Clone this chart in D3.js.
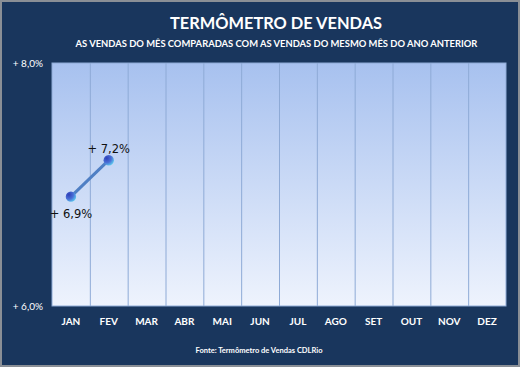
<!DOCTYPE html>
<html><head><meta charset="utf-8">
<script src="https://cdn.jsdelivr.net/npm/d3@7"></script>
<style>body{margin:0;background:#fff}svg{display:block}</style>
</head><body>
<script>
const months = ["JAN","FEV","MAR","ABR","MAI","JUN","JUL","AGO","SET","OUT","NOV","DEZ"];
const values = [6.9, 7.2];
const valueLabels = ["+ 6,9%", "+ 7,2%"];
const yTicks = [6.0, 8.0];
const yTickLabels = ["+ 6,0%", "+ 8,0%"];
const title = "TERMÔMETRO DE VENDAS";
const subtitle = "AS VENDAS DO MÊS COMPARADAS COM AS VENDAS DO MESMO MÊS DO ANO ANTERIOR";
const source = "Fonte: Termômetro de Vendas CDLRio";

const W = 520, H = 367;
const svg = d3.select("body").append("svg").attr("width", W).attr("height", H);
const defs = svg.append("defs");
const bg = defs.append("linearGradient").attr("id","plotbg").attr("x1",0).attr("y1",0).attr("x2",0).attr("y2",1);
bg.append("stop").attr("offset","0%").attr("stop-color","#a7c1ef");
bg.append("stop").attr("offset","100%").attr("stop-color","#eef3fd");
const mg = defs.append("radialGradient").attr("id","mark").attr("cx","30%").attr("cy","30%").attr("r","80%");
mg.append("stop").attr("offset","0%").attr("stop-color","#2f3fb8");
mg.append("stop").attr("offset","55%").attr("stop-color","#4a6fd6");
mg.append("stop").attr("offset","100%").attr("stop-color","#5fd0f0");

svg.append("rect").attr("x",0).attr("y",0).attr("width",W).attr("height",H).attr("fill","#8a8f96");
svg.append("rect").attr("x",2).attr("y",2).attr("width",W-4).attr("height",H-4).attr("fill","#19365d");

const font = "Lato, 'Open Sans', sans-serif";
svg.append("text").attr("x",276).attr("y",29).attr("text-anchor","middle").attr("fill","#fff")
  .attr("font-family",font).attr("font-weight","bold").attr("font-size",16.4).text(title);
svg.append("text").attr("x",276.5).attr("y",47).attr("text-anchor","middle").attr("fill","#fff")
  .attr("font-family",font).attr("font-weight","bold").attr("font-size",9.4).text(subtitle);

const L = 52, R = 506, T = 63, B = 306;
const x = d3.scaleBand().domain(months).range([L, R]);
const y = d3.scaleLinear().domain([6, 8]).range([B, T]);

svg.append("rect").attr("x",L).attr("y",T).attr("width",R-L).attr("height",B-T).attr("fill","url(#plotbg)");
svg.append("g").selectAll("line").data(months.slice(1)).join("line")
  .attr("x1",d=>x(d)+0.5).attr("x2",d=>x(d)+0.5).attr("y1",T).attr("y2",B)
  .attr("stroke","#8eaad6").attr("stroke-width",1);
svg.append("rect").attr("x",L).attr("y",T).attr("width",R-L).attr("height",B-T)
  .attr("fill","none").attr("stroke","#8eaad6").attr("stroke-width",1);

// y labels
svg.append("g").selectAll("text").data(yTicks).join("text")
  .attr("x",43).attr("y",d=>y(d)+4).attr("text-anchor","end").attr("fill","#fff")
  .attr("font-family",font).attr("font-size",10).text((d,i)=>yTickLabels[i]);

// x labels
svg.append("g").selectAll("text").data(months).join("text")
  .attr("x",d=>x(d)+x.bandwidth()/2).attr("y",325).attr("text-anchor","middle").attr("fill","#fff")
  .attr("font-family",font).attr("font-weight","bold").attr("font-size",10).text(d=>d);

// line
const pts = values.map((v,i)=>({m:months[i], v, lab:valueLabels[i]}));
const line = d3.line().x(d=>x(d.m)+x.bandwidth()/2).y(d=>y(d.v));
svg.append("path").datum(pts).attr("d",line).attr("fill","none").attr("stroke","#4f7fc4").attr("stroke-width",3);
svg.append("g").selectAll("circle").data(pts).join("circle")
  .attr("cx",d=>x(d.m)+x.bandwidth()/2).attr("cy",d=>y(d.v)).attr("r",5.2).attr("fill","url(#mark)");
svg.append("g").selectAll("text").data(pts).join("text")
  .attr("x",d=>x(d.m)+x.bandwidth()/2).attr("y",(d,i)=> i===0 ? y(d.v)+21 : y(d.v)-7)
  .attr("text-anchor","middle").attr("fill","#111")
  .attr("font-family","'DejaVu Sans', sans-serif").attr("font-size",11.5).text(d=>d.lab);

svg.append("text").attr("x",259).attr("y",353).attr("text-anchor","middle").attr("fill","#fff")
  .attr("font-family",font).attr("font-weight","bold").attr("font-size",7.5).text(source);
</script>
</body></html>
